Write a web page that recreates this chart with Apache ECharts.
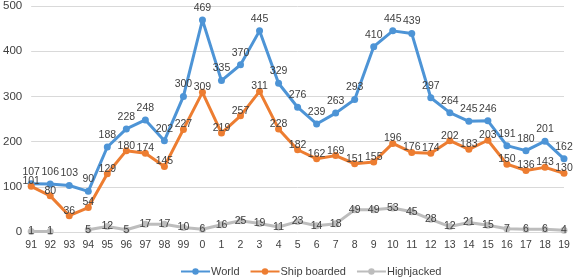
<!DOCTYPE html>
<html><head><meta charset="utf-8">
<script src="https://cdn.jsdelivr.net/npm/echarts@6/dist/echarts.min.js"></script>
<style>html,body{margin:0;padding:0;background:#fff}#c{width:581px;height:278px}</style>
</head><body><div id="c"></div>
<script>
var categories = ['91','92','93','94','95','96','97','98','99','0','1','2','3','4','5','6','7','8','9','10','11','12','13','14','15','16','17','18','19'];
var world = [107,106,103,90,188,228,248,202,300,469,335,370,445,329,276,239,263,293,410,445,439,297,264,245,246,191,180,201,162];
var shipBoarded = [101,80,36,54,129,180,174,145,227,309,219,257,311,228,182,162,169,151,155,196,176,174,202,183,203,150,136,143,130];
var highjacked = [1,1,null,5,12,5,17,17,10,6,16,25,19,11,23,14,18,49,49,53,45,28,12,21,15,7,6,6,4];
var yTicks = {min:0, max:500, interval:100};

var font = 'Liberation Sans, Arial, sans-serif';
var chart = echarts.init(document.getElementById('c'));
function mk(name, data, color, labelPos, offset) {
  return {
    name: name, type: 'line', data: data,
    symbol: 'circle', symbolSize: 7, connectNulls: false,
    lineStyle: {width: 3, color: color},
    itemStyle: {color: color},
    label: {show: true, position: labelPos, offset: offset, distance: 3,
      fontFamily: font, fontSize: 10.5, color: '#404040'}
  };
}
chart.setOption({
  animation: false,
  textStyle: {fontFamily: font},
  grid: {left: 30, right: 17, top: 6, bottom: 46},
  xAxis: {
    type: 'category', data: categories, boundaryGap: false,
    axisLine: {show: false}, axisTick: {show: false},
    axisLabel: {fontSize: 10.5, color: '#404040', fontFamily: font, margin: 8}
  },
  yAxis: {
    type: 'value', min: yTicks.min, max: yTicks.max, interval: yTicks.interval,
    axisLine: {show: false}, axisTick: {show: false},
    splitLine: {lineStyle: {color: '#D9D9D9', width: 1}},
    axisLabel: {fontSize: 11.5, color: '#404040', fontFamily: font, margin: 9}
  },
  legend: {
    left: 175, top: 261, itemWidth: 29, itemHeight: 8, itemGap: 10,
    textStyle: {fontSize: 11, color: '#404040', fontFamily: font, padding: [0, 0, 0, -4]}
  },
  series: [
    mk('World', world, '#4D94D6', 'top', [0, 0]),
    mk('Ship boarded', shipBoarded, '#ED7D31', 'inside', [0, -5]),
    mk('Highjacked', highjacked, '#BDBDBD', 'inside', [0, 0])
  ]
});
</script></body></html>
